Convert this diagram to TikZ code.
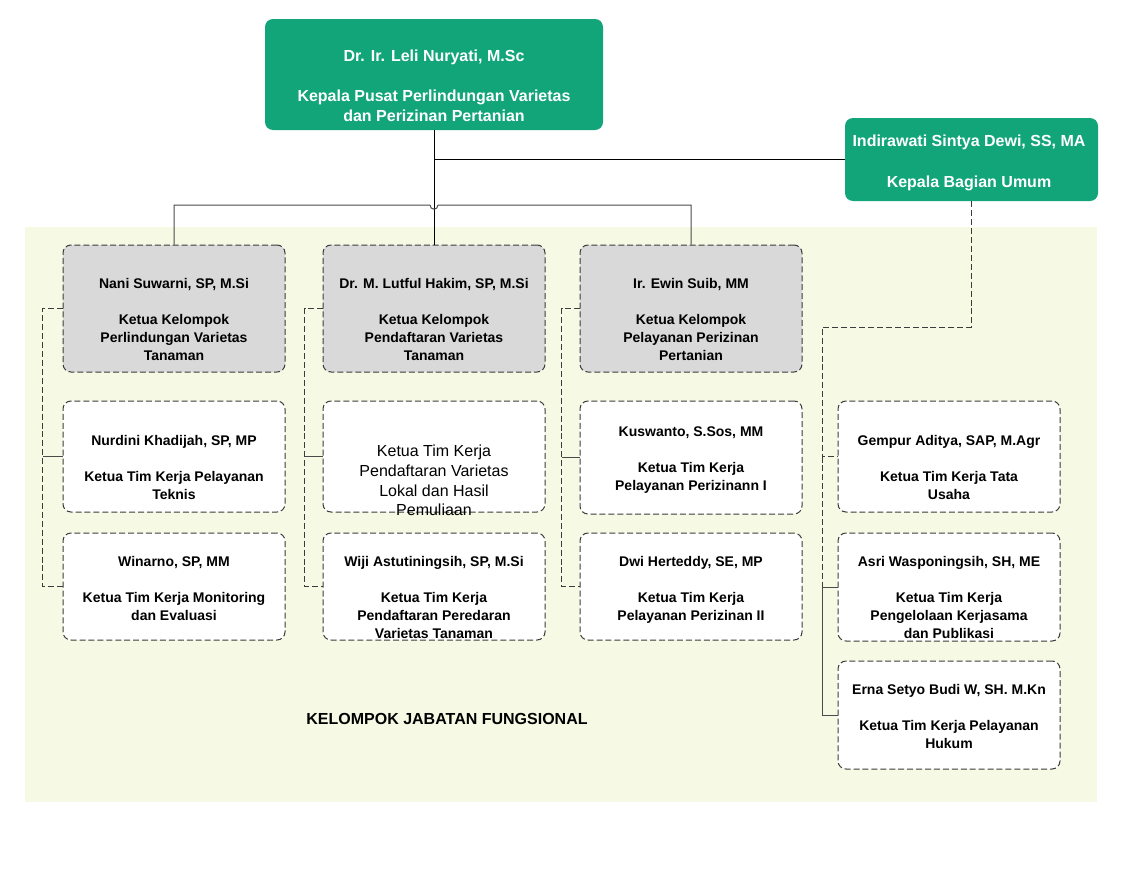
\documentclass[tikz,border=0pt]{standalone}
\usepackage{fontspec}
\setmainfont{Liberation Sans}
\usetikzlibrary{calc}
\definecolor{hdgreen}{HTML}{13A57A}
\definecolor{bgband}{HTML}{F6F9E3}
\definecolor{grpgray}{HTML}{D9D9D9}
\definecolor{dashcol}{HTML}{3C3C3C}
\definecolor{conncol}{HTML}{4A4A4A}
\newcommand\mkbox[6]{\node[#2, minimum width={(#5-#3)*0.75pt}, minimum height={(#6-#4)*0.75pt}] (#1) at ({(#3+#5)/2},{(#4+#6)/2}) {};}
\begin{document}
\begin{tikzpicture}[x=0.75pt,y=-0.75pt,
  headbox/.style={fill=hdgreen, rounded corners=6pt, inner sep=0pt},
  grpbox/.style={fill=grpgray, draw=dashcol, line width=0.75pt, dash pattern=on 4.5pt off 2.2pt, rounded corners=6pt, inner sep=0pt},
  teambox/.style={fill=white, draw=dashcol, line width=0.75pt, dash pattern=on 4.5pt off 2.2pt, rounded corners=6pt, inner sep=0pt},
  btxt/.style={font=\fontsize{10.5}{13.5}\selectfont\bfseries, align=center, inner sep=0pt, anchor=north},
  htxt/.style={font=\fontsize{12}{14.4}\selectfont\bfseries, text=white, align=center, inner sep=0pt, anchor=north},
  ptxt/.style={font=\fontsize{12}{14.75}\selectfont, align=center, inner sep=0pt, anchor=north},
  sconn/.style={draw=conncol, line width=0.75pt},
  dconn/.style={draw=dashcol, line width=0.75pt, dash pattern=on 4.5pt off 2.2pt}]
\useasboundingbox (0,0) rectangle (1122,882);
\fill[white] (0,0) rectangle (1122,882);
\mkbox{band}{fill=bgband, inner sep=0pt}{25}{227}{1097}{802}
% head boxes
\mkbox{top}{headbox}{265}{19}{603}{130}
\node[htxt] (topt) at (434,50) {Dr. Ir. Leli Nuryati, M.Sc\\[15.6pt]Kepala Pusat Perlindungan Varietas\\dan Perizinan Pertanian};
\mkbox{indi}{headbox}{845}{118}{1098}{201}
\node[htxt] (indit) at (969,134.25) {Indirawati Sintya Dewi, SS, MA\\[16.3pt]Kepala Bagian Umum};
% group heads
\mkbox{h1}{grpbox}{63}{245}{285}{372}
\node[btxt] (h1t) at (174,278) {Nani Suwarni, SP, M.Si\\[13.5pt]Ketua Kelompok\\Perlindungan Varietas\\Tanaman};
\mkbox{h2}{grpbox}{323}{245}{545}{372}
\node[btxt] (h2t) at (434,278) {Dr. M. Lutful Hakim, SP, M.Si\\[13.5pt]Ketua Kelompok\\Pendaftaran Varietas\\Tanaman};
\mkbox{h3}{grpbox}{580}{245}{802}{372}
\node[btxt] (h3t) at (691,278) {Ir. Ewin Suib, MM\\[13.5pt]Ketua Kelompok\\Pelayanan Perizinan\\Pertanian};
% row 2
\mkbox{n1}{teambox}{63}{401}{285}{512}
\node[btxt] (n1t) at (174,435) {Nurdini Khadijah, SP, MP\\[13.5pt]Ketua Tim Kerja Pelayanan\\Teknis};
\mkbox{m2}{teambox}{323}{401}{545}{512}
\node[ptxt] (m2t) at (434,445) {Ketua Tim Kerja\\Pendaftaran Varietas\\Lokal dan Hasil\\Pemuliaan};
\mkbox{k3}{teambox}{580}{401}{802}{514}
\node[btxt] (k3t) at (691,426) {Kuswanto, S.Sos, MM\\[13.5pt]Ketua Tim Kerja\\Pelayanan Perizinann I};
\mkbox{g4}{teambox}{838}{401}{1060}{512}
\node[btxt] (g4t) at (949,435) {Gempur Aditya, SAP, M.Agr\\[13.5pt]Ketua Tim Kerja Tata\\Usaha};
% row 3
\mkbox{w1}{teambox}{63}{533}{285}{640}
\node[btxt] (w1t) at (174,556) {Winarno, SP, MM\\[13.5pt]Ketua Tim Kerja Monitoring\\dan Evaluasi};
\mkbox{wj}{teambox}{323}{533}{545}{640}
\node[btxt] (wjt) at (434,556) {Wiji Astutiningsih, SP, M.Si\\[13.5pt]Ketua Tim Kerja\\Pendaftaran Peredaran\\Varietas Tanaman};
\mkbox{d3}{teambox}{580}{533}{802}{640}
\node[btxt] (d3t) at (691,556) {Dwi Herteddy, SE, MP\\[13.5pt]Ketua Tim Kerja\\Pelayanan Perizinan II};
\mkbox{a4}{teambox}{838}{533}{1060}{641}
\node[btxt] (a4t) at (949,556) {Asri Wasponingsih, SH, ME\\[13.5pt]Ketua Tim Kerja\\Pengelolaan Kerjasama\\dan Publikasi};
% row 4
\mkbox{e4}{teambox}{838}{661}{1060}{769}
\node[btxt] (e4t) at (949,684) {Erna Setyo Budi W, SH. M.Kn\\[13.5pt]Ketua Tim Kerja Pelayanan\\Hukum};
% label
\node[font=\fontsize{12}{14}\selectfont\bfseries, inner sep=0pt] (lbl) at (447,719) {KELOMPOK JABATAN FUNGSIONAL};
% connectors
\coordinate (busy) at (0,205);
\coordinate (rbus) at (822,327);
\draw[sconn, draw=black] (top.south) -- (h2.north);
\draw[sconn, draw=black] (top.south |- indi.west) -- (indi.west);
\draw[sconn] (h1.north) -- (h1.north |- busy) -- ($(h2.north |- busy)+(-4,0)$) .. controls ($(h2.north |- busy)+(-4,5.5)$) and ($(h2.north |- busy)+(4,5.5)$) .. ($(h2.north |- busy)+(4,0)$) -- (h3.north |- busy) -- (h3.north);
% left groups
\draw[dconn] (h1.west) -- ++(-20,0) |- (w1.west);
\draw[sconn] (n1.west) -- ++(-20,0);
\draw[dconn] (h2.west) -- ++(-18,0) |- (wj.west);
\draw[sconn] (m2.west) -- ++(-18,0);
\draw[dconn] (h3.west) -- ++(-18,0) |- (d3.west);
\draw[sconn] (k3.west) -- ++(-18,0);
% right group
\draw[dconn] (indi.south) |- (rbus) |- (g4.west);
\draw[dconn] (rbus |- g4.west) -- (rbus |- a4.west);
\draw[sconn] (rbus |- a4.west) -- (a4.west);
\draw[sconn] (rbus |- a4.west) |- (e4.west);
\end{tikzpicture}
\end{document}
